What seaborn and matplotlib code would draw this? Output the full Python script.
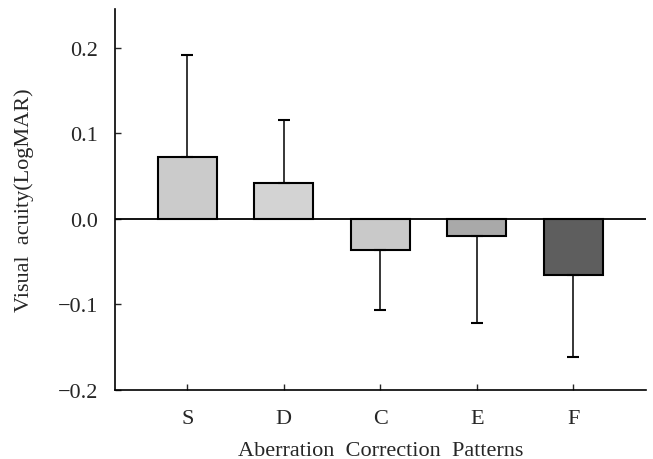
import matplotlib
matplotlib.use("Agg")
import matplotlib.pyplot as plt
import seaborn as sns
import pandas as pd
import numpy as np

categories = ["S", "D", "C", "E", "F"]
means = [0.072, 0.042, -0.036, -0.020, -0.066]
sds = [0.119, 0.073, 0.071, 0.102, 0.096]
bar_colors = ["#cbcbcb", "#d3d3d3", "#c9c9c9", "#a9a9a9", "#5e5e5e"]
yticks = [-0.2, -0.1, 0.0, 0.1, 0.2]
ytick_labels = ["\u22120.2", "\u22120.1", "0.0", "0.1", "0.2"]

sns.set_style("ticks")
plt.rcParams["font.family"] = ["Liberation Serif", "DejaVu Serif"]

df = pd.DataFrame({"pattern": categories, "va": means})

fig = plt.figure(figsize=(6.53, 4.60), dpi=100)
ax = fig.add_axes([0.176, 0.15, 0.813, 0.828])

sns.barplot(data=df, x="pattern", y="va", hue="pattern", palette=bar_colors,
            legend=False, edgecolor="black", linewidth=1.5, width=0.61,
            saturation=1, ax=ax)

lower = [s if m < 0 else 0 for m, s in zip(means, sds)]
upper = [s if m >= 0 else 0 for m, s in zip(means, sds)]
ax.errorbar(np.arange(len(categories)), means, yerr=[lower, upper], fmt="none",
            ecolor="black", elinewidth=1.1, capsize=4.5, capthick=1.5, zorder=1)

ax.axhline(0, color="black", lw=1.3, zorder=3)

ax.set_xlim(-0.75, 4.75)
ax.set_ylim(-0.2, 0.245)
ax.set_yticks(yticks)
ax.set_yticklabels(ytick_labels)
ax.tick_params(direction="in", length=4, width=1, labelsize=16)
ax.tick_params(axis="y", pad=12)
ax.tick_params(axis="x", pad=14)

ax.set_xlabel("Aberration  Correction  Patterns", fontsize=16, labelpad=9)
ax.set_ylabel("Visual  acuity(LogMAR)", fontsize=16, labelpad=17)

for side in ["top", "right"]:
    ax.spines[side].set_visible(False)
for side in ["left", "bottom"]:
    ax.spines[side].set_linewidth(1.2)
    ax.spines[side].set_color("black")

fig.savefig("out.png", dpi=100)
